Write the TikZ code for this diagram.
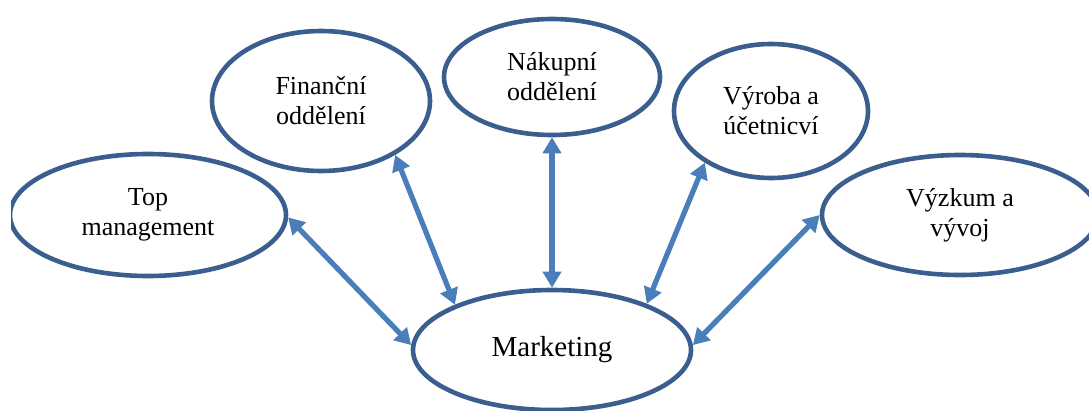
\documentclass[tikz,border=0pt]{standalone}
\usepackage{fontspec}
\setmainfont{Liberation Serif}
\usetikzlibrary{arrows.meta,shapes.geometric,positioning}

\definecolor{rimblue}{HTML}{3A5F8F}
\definecolor{arrowblue}{HTML}{4A7EBB}

\begin{document}
\begin{tikzpicture}
		[x=1pt, y=-1pt,
		dept/.style={draw=rimblue, fill=white, line width=4.6pt, ellipse, inner sep=0pt, align=center, font=\fontsize{26}{30}\selectfont},
		link/.style={draw=arrowblue, line width=5.2pt, {Triangle[length=16pt,width=18pt]}-{Triangle[length=16pt,width=18pt]}}]

			\useasboundingbox (0,0) rectangle (1089,410);
			\clip (11,0) rectangle (1089,410);

			\node[dept, minimum width=278pt, minimum height=120pt, font=\fontsize{29}{33}\selectfont] (mk) at (552,350) {Marketing};
			\node[dept, minimum width=276pt, minimum height=122pt] (tm) at (148,215) {Top\\management};
			\node[dept, minimum width=218pt, minimum height=140pt] (fin) at (321,101) {Finanční\\oddělení};
			\node[dept, minimum width=216pt, minimum height=116pt] (nak) at (552,77) {Nákupní\\oddělení};
			\node[dept, minimum width=194pt, minimum height=134pt] (vyr) at (771,111) {Výroba a\\účetnicví};
			\node[dept, minimum width=276pt, minimum height=120pt] (vyz) at (960,215) {Výzkum a\\vývoj};

			\path
			(tm.-1) edge[link] (mk.178)
			(fin.-36) edge[link] (mk.155)
			(nak.south) edge[link] (mk.north)
			(vyr.218) edge[link] (mk.26)
			(vyz.180) edge[link] (mk.2);

	\end{tikzpicture}
\end{document}
